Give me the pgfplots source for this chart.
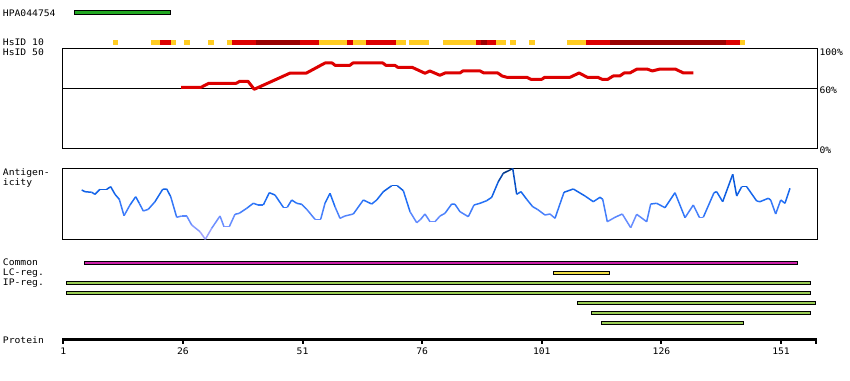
\documentclass[border=0pt]{standalone}
\usepackage{pgfplots}
\pgfplotsset{compat=1.18}
\usepackage{fontspec}
\setmainfont[FakeStretch=1.08]{DejaVu Sans Mono}
\definecolor{hsy}{RGB}{255,204,34}
\definecolor{hsr}{RGB}{221,0,0}
\definecolor{hsd}{RGB}{153,0,0}
\definecolor{hpag}{RGB}{34,168,34}
\definecolor{cmag}{RGB}{204,34,170}
\definecolor{lcy}{RGB}{238,221,68}
\definecolor{ipg}{RGB}{153,204,85}
\begin{document}
\begin{tikzpicture}[x=1pt,y=1pt,lab/.style={font=\fontsize{9}{10}\selectfont,inner sep=0pt}]
\useasboundingbox (0,0) rectangle (850,380);
% canvas axis: x in residues, y in pixels from top
\begin{axis}[at={(0pt,0pt)},anchor=south west,scale only axis,width=850pt,height=380pt,
  xmin=-12.229,xmax=165.41,ymin=0,ymax=380,y dir=reverse,hide axis,clip=false,
  unbounded coords=jump]
% HPA antigen bar
\addplot[draw=black,line width=1pt,fill=hpag] coordinates {(3.34,10.5)(23.34,10.5)(23.34,14.2)(3.34,14.2)} --cycle;
% HsID 10 blocks
\addplot[hsy,line width=5pt] coordinates {(11.39,42.5)(12.43,42.5)(12.43,nan)(19.33,42.5)(21.21,42.5)(21.21,nan)(23.51,42.5)(24.55,42.5)(24.55,nan)(26.22,42.5)(27.48,42.5)(27.48,nan)(31.24,42.5)(32.49,42.5)(32.49,nan)(35.21,42.5)(36.26,42.5)(36.26,nan)(54.44,42.5)(60.29,42.5)(60.29,nan)(61.54,42.5)(64.26,42.5)(64.26,nan)(70.53,42.5)(72.62,42.5)(72.62,nan)(73.25,42.5)(77.43,42.5)(77.43,nan)(80.35,42.5)(87.25,42.5)(87.25,nan)(91.43,42.5)(93.52,42.5)(93.52,nan)(94.36,42.5)(95.61,42.5)(95.61,nan)(98.33,42.5)(99.58,42.5)(99.58,nan)(106.27,42.5)(110.24,42.5)(110.24,nan)(142.42,42.5)(143.46,42.5)};
\addplot[hsr,line width=5pt] coordinates {(21.21,42.5)(23.51,42.5)(23.51,nan)(36.26,42.5)(41.27,42.5)(41.27,nan)(50.47,42.5)(54.44,42.5)(54.44,nan)(60.29,42.5)(61.54,42.5)(61.54,nan)(64.26,42.5)(70.53,42.5)(70.53,nan)(87.25,42.5)(88.29,42.5)(88.29,nan)(89.55,42.5)(91.43,42.5)(91.43,nan)(110.24,42.5)(115.25,42.5)(115.25,nan)(139.49,42.5)(142.42,42.5)};
\addplot[hsd,line width=5pt] coordinates {(41.27,42.5)(50.47,42.5)(50.47,nan)(88.29,42.5)(89.55,42.5)(89.55,nan)(115.25,42.5)(139.49,42.5)};
% feature bars
\addplot[draw=black,line width=1pt,fill=cmag] coordinates {(5.49,261.2)(154.37,261.2)(154.37,264.2)(5.49,264.2)} --cycle;
\addplot[draw=black,line width=1pt,fill=lcy] coordinates {(103.51,271.2)(115.21,271.2)(115.21,274.2)(103.51,274.2)} --cycle;
\addplot[draw=black,line width=1pt,fill=ipg] coordinates {(1.61,281.2)(157.22,281.2)(157.22,284.2)(1.61,284.2)} --cycle;
\addplot[draw=black,line width=1pt,fill=ipg] coordinates {(1.61,291.2)(157.22,291.2)(157.22,294.2)(1.61,294.2)} --cycle;
\addplot[draw=black,line width=1pt,fill=ipg] coordinates {(108.52,301.2)(158.26,301.2)(158.26,304.2)(108.52,304.2)} --cycle;
\addplot[draw=black,line width=1pt,fill=ipg] coordinates {(111.45,311.2)(157.22,311.2)(157.22,314.2)(111.45,314.2)} --cycle;
\addplot[draw=black,line width=1pt,fill=ipg] coordinates {(113.54,321.2)(143.21,321.2)(143.21,324.2)(113.54,324.2)} --cycle;
% protein ruler
\addplot[black,line width=3pt] coordinates {(0.79,339.5)(158.58,339.5)};
\addplot[black,line width=2pt] coordinates {(1,338)(1,343.5)(1,nan)(26,338)(26,343.5)(26,nan)(51,338)(51,343.5)(51,nan)(76,338)(76,343.5)(76,nan)(101,338)(101,343.5)(101,nan)(126,338)(126,343.5)(126,nan)(151,338)(151,343.5)(151,nan)(158.4,338)(158.4,343.5)};
\foreach \t in {1,26,51,76,101,126,151}{
  \edef\tmp{\noexpand\node[lab,anchor=base] at (axis cs:\t,354.3) {\t};}\tmp
}
\end{axis}
% HsID 50 panel
\begin{axis}[at={(62.5pt,231pt)},anchor=south west,scale only axis,width=755pt,height=100.7pt,
  xmin=0.833,xmax=158.62,ymin=0,ymax=100,xtick=\empty,ytick=\empty,
  axis line style={line width=1pt}]
\addplot[black,line width=1pt] coordinates {(0.833,60)(158.62,60)};
\addplot[hsr,line width=3pt,line join=round] coordinates {(25.6,61.3)(29.8,61.3)(31.4,65.2)(37.1,65.2)(37.9,67.2)(39.6,67.2)(40.9,59.3)(48.4,75.4)(51.8,75.4)(55.7,85.4)(57.2,85.4)(57.8,83.1)(60.9,83.1)(61.5,85.4)(67.8,85.4)(68.4,83.1)(70.3,83.1)(70.9,81.1)(73.9,81.1)(76.6,75.2)(77.6,77.5)(79.7,73.2)(80.8,75.5)(83.9,75.5)(84.5,77.5)(88.1,77.5)(88.9,75.5)(91.8,75.5)(92.7,72.5)(93.7,71.2)(97.9,71.2)(98.7,69.2)(101.0,69.2)(101.6,71.2)(106.9,71.2)(108.8,75.5)(110.5,71.2)(112.7,71.2)(113.6,69.2)(114.8,69.2)(115.9,72.5)(117.3,72.5)(118.2,75.5)(119.4,75.5)(120.9,79.4)(123.0,79.4)(124.1,77.5)(125.7,79.4)(128.9,79.4)(130.6,75.5)(132.7,75.5)};
\end{axis}
% Antigenicity panel
\begin{axis}[at={(62.5pt,140pt)},anchor=south west,scale only axis,width=755pt,height=71.7pt,
  xmin=0.833,xmax=158.62,ymin=0,ymax=71.7,xtick=\empty,ytick=\empty,
  axis line style={line width=1pt},
  colormap={ag}{rgb255(0)=(180,170,255) rgb255(20)=(100,140,255) rgb255(40)=(30,110,245) rgb255(55)=(10,90,220) rgb255(72)=(0,45,110)},
  point meta min=0,point meta max=72]
\addplot[mesh,point meta=y,line width=1.5pt,line join=round] coordinates {
(4.85,50)(5.53,48.3)(6.94,47.7)(7.62,45.7)(8.67,50.7)(10.07,50.7)(10.91,53.3)(11.80,45.7)(12.70,40.7)(13.69,24.3)(14.94,35)(16.13,43.3)(16.88,36.7)(17.72,29)(18.76,30.7)(20.16,38.3)(21.77,50.7)(22.61,51)(23.45,43.3)(24.70,22.7)(25.74,24)(26.79,24)(27.83,15)(29.57,8.3)(30.68,0.7)(32.01,11.7)(33.75,24)(34.58,13.3)(35.69,13.3)(36.88,25.7)(37.78,26.7)(39.33,31.7)(40.71,36.7)(41.75,35)(42.80,35)(44.05,47.3)(45.24,45)(46.98,32.7)(47.81,32.7)(48.73,40)(49.78,36.7)(50.82,35.7)(51.87,30.7)(53.60,20.7)(54.79,20.7)(55.69,36.7)(56.74,46.7)(57.78,33.3)(58.83,21.7)(59.87,24)(61.61,26)(63.70,40)(65.45,36)(66.50,40)(67.88,48.3)(69.63,54.3)(70.80,54.3)(72.06,49.3)(73.46,28.3)(74.86,17.3)(75.69,20.7)(76.59,26)(77.64,18.3)(78.68,18.3)(79.73,24)(80.77,26.7)(82.17,36)(82.86,35.7)(83.90,28.3)(85.64,23.3)(86.83,35)(88.08,36.7)(89.48,39.3)(90.53,42.7)(91.91,58.3)(92.95,66.7)(94.35,70)(94.92,71.7)(95.75,45.7)(96.65,48.3)(97.84,40.7)(99.10,33.3)(100.06,30.7)(101.67,25)(102.71,26)(103.76,21.7)(105.64,47.7)(107.58,51)(110.03,44)(111.76,38.3)(113.16,42.7)(113.73,40.7)(114.69,18.3)(116.30,22.7)(117.82,26)(119.58,12.3)(120.83,25.7)(122.92,18.3)(123.76,36)(125.01,36.7)(126.75,32.3)(128.84,47.3)(130.93,22.3)(132.66,35)(133.92,22.7)(134.75,22.7)(136.99,47.3)(137.55,48.3)(138.80,38.3)(140.90,65.7)(141.73,44)(142.78,53.3)(143.82,53.3)(145.91,39)(146.60,38.3)(148.33,41.7)(148.83,40)(149.88,26)(150.93,40)(151.82,36.7)(152.87,51.7)};
\end{axis}
% text labels
\node[lab,anchor=base west] at (2.7,363.3) {HPA044754};
\node[lab,anchor=base west] at (2.7,334) {HsID 10};
\node[lab,anchor=base west] at (2.7,324) {HsID 50};
\node[lab,anchor=base west] at (2.7,204) {Antigen-};
\node[lab,anchor=base west] at (2.7,194) {icity};
\node[lab,anchor=base west] at (2.7,114) {Common};
\node[lab,anchor=base west] at (2.7,104) {LC-reg.};
\node[lab,anchor=base west] at (2.7,94) {IP-reg.};
\node[lab,anchor=base west] at (2.7,37) {Protein};
\node[lab,anchor=base west] at (819.3,324.5) {100\%};
\node[lab,anchor=base west] at (819.3,286.7) {60\%};
\node[lab,anchor=base west] at (819.3,226.5) {0\%};
\end{tikzpicture}
\end{document}
